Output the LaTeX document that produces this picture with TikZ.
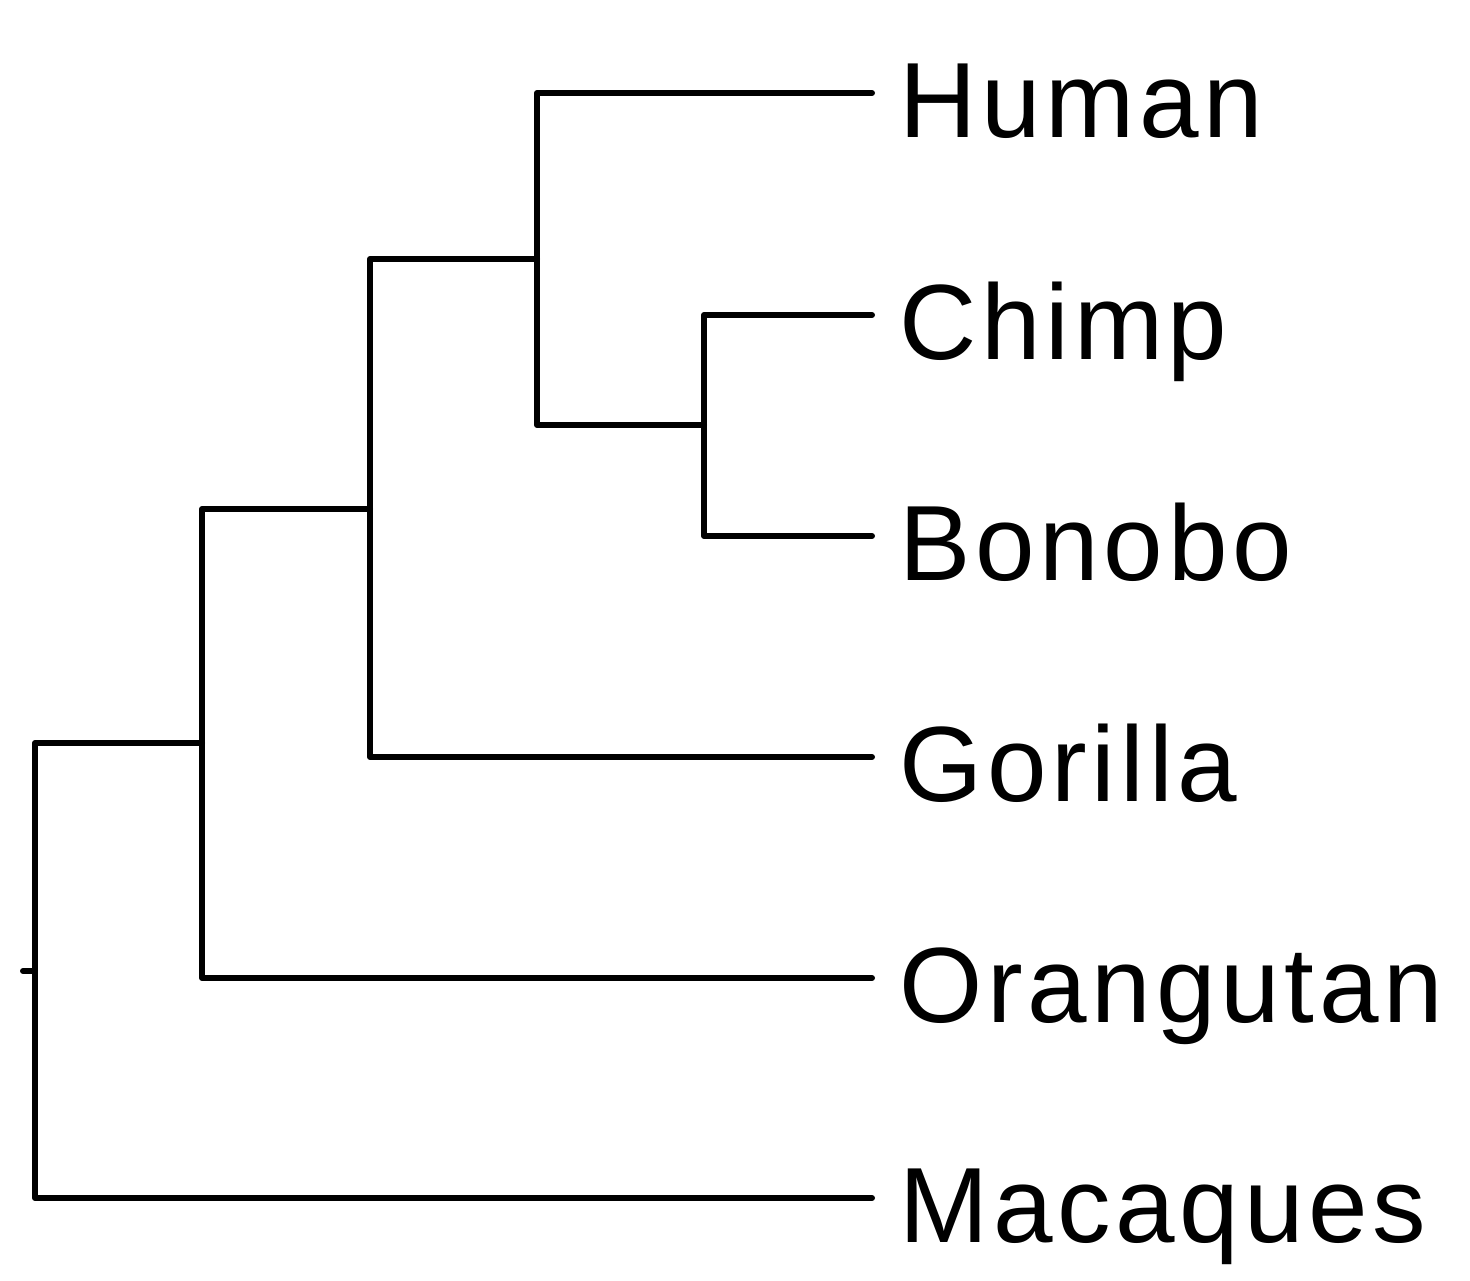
\documentclass[tikz,border=0pt]{standalone}
\usepackage{fontspec}
\setmainfont{Liberation Sans}[LetterSpace=4.5]
\begin{document}
\begin{tikzpicture}[x=1pt,y=-1pt,
  branch/.style={line width=6pt,line cap=round,line join=round,black},
  leaf/.style={anchor=base west,inner sep=0pt,font=\fontsize{107}{110}\selectfont}]
\useasboundingbox (0,0) rectangle (1470,1280);
% leaf ends
\coordinate (hE) at (872,93);
\coordinate (cE) at (872,315);
\coordinate (bE) at (872,536);
\coordinate (gE) at (872,757);
\coordinate (oE) at (872,978);
\coordinate (mE) at (872,1198);
% internal nodes
\coordinate (D) at (704,425);
\coordinate (C) at (537,259);
\coordinate (B) at (370,509);
\coordinate (A) at (202,743);
\coordinate (R) at (35,971);
\coordinate (S) at (23,971);
% labels
\node[leaf] (human) at (899,137) {Human};
\node[leaf] (chimp) at (899,359) {Chimp};
\node[leaf] (bonobo) at (899,580) {Bonobo};
\node[leaf] (gorilla) at (899,801) {Gorilla};
\node[leaf] (orang) at (899,1022) {Orangutan};
\node[leaf] (mac) at (899,1242) {Macaques};
% branches
\draw[branch] (cE) -| (D) |- (bE);
\draw[branch] (hE) -| (C) |- (D);
\draw[branch] (C) -| (B) |- (gE);
\draw[branch] (B) -| (A) |- (oE);
\draw[branch] (A) -| (R) |- (mE);
\draw[branch] (S) -- (R);
\end{tikzpicture}
\end{document}
